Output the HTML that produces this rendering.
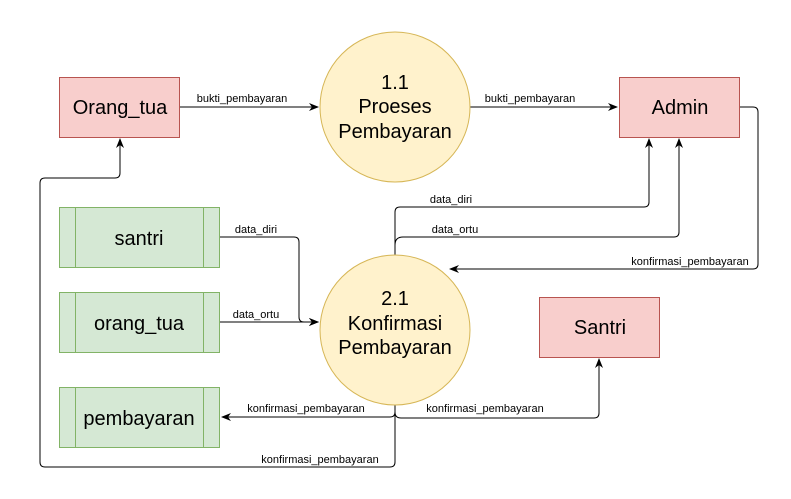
<!DOCTYPE html>
<html><head><style>body{margin:0;background:#fff}svg{display:block}</style></head><body>
<svg width="791" height="499" viewBox="0 0 791 499" xmlns="http://www.w3.org/2000/svg" font-family="Liberation Sans, sans-serif">
<defs><marker id="a" markerWidth="10" markerHeight="10" refX="9" refY="5" orient="auto" markerUnits="userSpaceOnUse"><path d="M0,1 L10,5 L0,9 L3,5 Z" fill="#000"/></marker></defs>
<g fill="none" stroke="#000" stroke-width="1">
<path d="M180,107 H318" marker-end="url(#a)"/>
<path d="M470,107 H617" marker-end="url(#a)"/>
<path d="M219,237 H294 Q299,237 299,242 V317 Q299,322 304,322 H318" marker-end="url(#a)"/>
<path d="M219,322 H318" marker-end="url(#a)"/>
<path d="M395,255 V212 Q395,207 400,207 H644 Q649,207 649,202 V139" marker-end="url(#a)"/>
<path d="M395,245 Q395,237 403,237 H674 Q679,237 679,232 V139" marker-end="url(#a)"/>
<path d="M739,107 H753 Q758,107 758,112 V264 Q758,269 753,269 H450" marker-end="url(#a)"/>
<path d="M395,405 V462 Q395,467 390,467 H45 Q40,467 40,462 V183 Q40,178 45,178 H115 Q120,178 120,173 V139" marker-end="url(#a)"/>
<path d="M395,412 Q395,417 390,417 H222" marker-end="url(#a)"/>
<path d="M395,412 Q395,418 401,418 H594 Q599,418 599,413 V359" marker-end="url(#a)"/>
</g>
<rect x="59.5" y="77.5" width="120" height="60" fill="#f8cecc" stroke="#b85450"/>
<rect x="619.5" y="77.5" width="120" height="60" fill="#f8cecc" stroke="#b85450"/>
<rect x="539.5" y="297.5" width="120" height="60" fill="#f8cecc" stroke="#b85450"/>
<circle cx="395" cy="107" r="75" fill="#fff2cc" stroke="#d6b656"/>
<circle cx="395" cy="330" r="75" fill="#fff2cc" stroke="#d6b656"/>
<g fill="#d5e8d4" stroke="#82b366">
<rect x="59.5" y="207.5" width="160" height="60"/><path d="M75.5,207.5V267.5M203.5,207.5V267.5"/>
<rect x="59.5" y="292.5" width="160" height="60"/><path d="M75.5,292.5V352.5M203.5,292.5V352.5"/>
<rect x="59.5" y="387.5" width="160" height="60"/><path d="M75.5,387.5V447.5M203.5,387.5V447.5"/>
</g>
<g font-size="20" text-anchor="middle" fill="#000">
<text x="120" y="114">Orang_tua</text>
<text x="680" y="114">Admin</text>
<text x="600" y="334">Santri</text>
<text x="139" y="245">santri</text>
<text x="139" y="330">orang_tua</text>
<text x="139" y="425">pembayaran</text>
<text x="395" y="89">1.1</text><text x="395" y="113">Proeses</text><text x="395" y="138">Pembayaran</text>
<text x="395" y="305">2.1</text><text x="395" y="330">Konfirmasi</text><text x="395" y="354">Pembayaran</text>
</g>
<g font-size="11" text-anchor="middle" fill="#000">
<text x="242" y="102">bukti_pembayaran</text>
<text x="530" y="102">bukti_pembayaran</text>
<text x="256" y="233">data_diri</text>
<text x="256" y="318">data_ortu</text>
<text x="451" y="203">data_diri</text>
<text x="455" y="233">data_ortu</text>
<text x="690" y="265">konfirmasi_pembayaran</text>
<text x="306" y="412">konfirmasi_pembayaran</text>
<text x="485" y="412">konfirmasi_pembayaran</text>
<text x="320" y="463">konfirmasi_pembayaran</text>
</g>
</svg>
</body></html>
